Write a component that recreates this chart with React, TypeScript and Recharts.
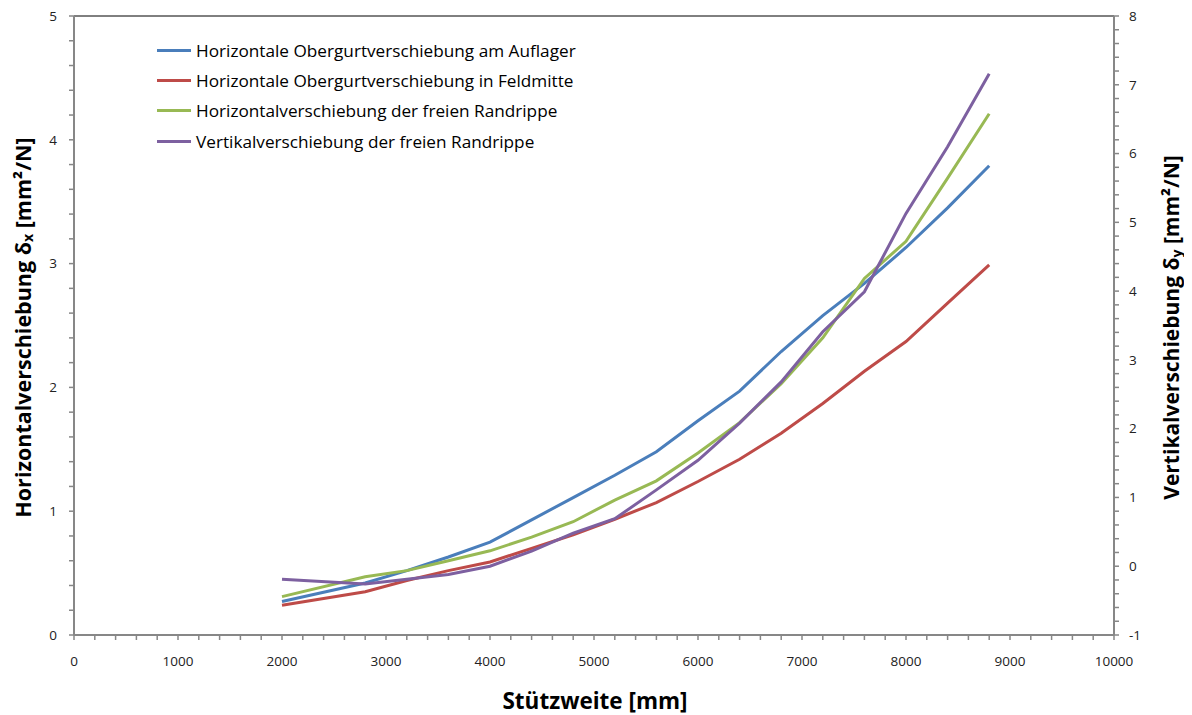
import React from "react";
import { LineChart, Line, XAxis, YAxis, ReferenceLine } from "recharts";

// ---- data ----
const spans = [2000, 2800, 3200, 3600, 4000, 4400, 4800, 5200, 5600, 6000, 6400, 6800, 7200, 7600, 8000, 8400, 8800];
const auflager = [0.27, 0.42, 0.52, 0.63, 0.75, 0.93, 1.11, 1.29, 1.48, 1.73, 1.97, 2.29, 2.58, 2.84, 3.13, 3.45, 3.79];
const feldmitte = [0.24, 0.35, 0.44, 0.52, 0.59, 0.70, 0.81, 0.935, 1.07, 1.24, 1.42, 1.63, 1.87, 2.13, 2.37, 2.68, 2.99];
const horizRand = [0.31, 0.47, 0.52, 0.60, 0.68, 0.79, 0.915, 1.09, 1.245, 1.47, 1.715, 2.03, 2.40, 2.88, 3.18, 3.69, 4.21];
const vertRand = [-0.19, -0.26, -0.19, -0.12, 0.0, 0.22, 0.48, 0.69, 1.11, 1.54, 2.08, 2.68, 3.41, 3.99, 5.13, 6.1, 7.16];

const seriesNames = [
  "Horizontale Obergurtverschiebung am Auflager",
  "Horizontale Obergurtverschiebung in Feldmitte",
  "Horizontalverschiebung der freien Randrippe",
  "Vertikalverschiebung der freien Randrippe",
];
const seriesColors = ["#4A7EBB", "#BE4B48", "#98B954", "#7D60A0"];

const xMajorTicks = [0, 1000, 2000, 3000, 4000, 5000, 6000, 7000, 8000, 9000, 10000];
const yLeftMajorTicks = [0, 1, 2, 3, 4, 5];
const yRightMajorTicks = [-1, 0, 1, 2, 3, 4, 5, 6, 7, 8];

const xTicks: number[] = [];
for (let k = 0; k <= 50; k++) xTicks.push(k * 200);
const yLeftTicks: number[] = [];
for (let k = 0; k <= 25; k++) yLeftTicks.push(Math.round(k * 2) / 10);
const yRightTicks: number[] = [];
for (let k = -5; k <= 40; k++) yRightTicks.push(Math.round(k * 2) / 10);

const data = spans.map((s, i) => ({
  x: s,
  a: auflager[i],
  f: feldmitte[i],
  h: horizRand[i],
  v: vertRand[i],
}));

const FONT = "'Open Sans', 'Liberation Sans', sans-serif";
const AXIS_COLOR = "#878787";

const XTick = (props: any) => {
  const { x, y, payload } = props;
  if (!xMajorTicks.includes(payload.value)) return <g />;
  return (
    <text x={x} y={y} dy="0.71em" textAnchor="middle" fontFamily={FONT} fontSize={13.5} fill="#222">
      {payload.value}
    </text>
  );
};

const YLeftTick = (props: any) => {
  const { x, y, payload } = props;
  if (!yLeftMajorTicks.includes(payload.value)) return <g />;
  return (
    <text x={x} y={y} dy="0.35em" textAnchor="end" fontFamily={FONT} fontSize={13.5} fill="#222">
      {payload.value}
    </text>
  );
};

const YRightTick = (props: any) => {
  const { x, y, payload } = props;
  if (!yRightMajorTicks.includes(payload.value)) return <g />;
  return (
    <text x={x} y={y} dy="0.35em" textAnchor="start" fontFamily={FONT} fontSize={13.5} fill="#222">
      {payload.value}
    </text>
  );
};

const LeftTitle = (props: any) => {
  const vb = props.viewBox || { x: 0, y: 8, width: 66, height: 619 };
  const cx = vb.x + 14;
  const cy = vb.y + vb.height / 2 + 2;
  return (
    <text
      x={cx}
      y={cy}
      transform={`rotate(-90 ${cx} ${cy})`}
      textAnchor="middle"
      dominantBaseline="central"
      fontFamily={FONT}
      fontSize={21.5}
      fontWeight="bold"
      fill="#000"
    >
      Horizontalverschiebung δ<tspan fontSize={14} dy={5}>x</tspan>
      <tspan dy={-5}> [mm²/N]</tspan>
    </text>
  );
};

const RightTitle = (props: any) => {
  const vb = props.viewBox || { x: 1106, y: 8, width: 78, height: 619 };
  const cx = vb.x + 57;
  const cy = vb.y + vb.height / 2 + 2;
  return (
    <text
      x={cx}
      y={cy}
      transform={`rotate(-90 ${cx} ${cy})`}
      textAnchor="middle"
      dominantBaseline="central"
      fontFamily={FONT}
      fontSize={21}
      fontWeight="bold"
      fill="#000"
    >
      Vertikalverschiebung δ<tspan fontSize={14} dy={5}>y</tspan>
      <tspan dy={-5}> [mm²/N]</tspan>
    </text>
  );
};

const XTitle = (props: any) => {
  const vb = props.viewBox || { x: 66, y: 627, width: 1040, height: 80 };
  return (
    <text
      x={vb.x + vb.width / 2 + 1}
      y={vb.y + 74}
      textAnchor="middle"
      fontFamily={FONT}
      fontSize={22.5}
      fontWeight="bold"
      fill="#000"
    >
      Stützweite [mm]
    </text>
  );
};

const LegendBox = () => (
  <div style={{ position: "absolute", left: 149, top: 27, fontFamily: FONT, fontSize: 17.2, color: "#000" }}>
    {seriesNames.map((n, i) => (
      <div key={n} style={{ display: "flex", alignItems: "center", height: 30.4, whiteSpace: "nowrap" }}>
        <span style={{ display: "inline-block", width: 34, height: 3, background: seriesColors[i], marginRight: 5 }} />
        <span>{n}</span>
      </div>
    ))}
  </div>
);

export default function App() {
  return (
    <div style={{ width: 1184, height: 707, position: "relative" }}>
      <LineChart width={1184} height={707} data={data} margin={{ top: 8, right: 0, bottom: 0, left: 0 }}>
        <XAxis
          dataKey="x"
          type="number"
          domain={[0, 10000]}
          ticks={xTicks}
          interval={0}
          height={80}
          stroke={AXIS_COLOR}
          strokeWidth={2}
          tickSize={5}
          tickMargin={16}
          tick={<XTick />}
          tickLine={{ stroke: AXIS_COLOR, strokeWidth: 1.5 }}
          label={<XTitle />}
        />
        <YAxis
          yAxisId="left"
          orientation="left"
          type="number"
          domain={[0, 5]}
          ticks={yLeftTicks}
          interval={0}
          width={66}
          stroke={AXIS_COLOR}
          strokeWidth={2}
          tickSize={5}
          tickMargin={12}
          tick={<YLeftTick />}
          tickLine={{ stroke: AXIS_COLOR, strokeWidth: 1.5 }}
          label={<LeftTitle />}
        />
        <YAxis
          yAxisId="right"
          orientation="right"
          type="number"
          domain={[-1, 8]}
          ticks={yRightTicks}
          interval={0}
          width={78}
          stroke={AXIS_COLOR}
          strokeWidth={2}
          tickSize={5}
          tickMargin={10}
          tick={<YRightTick />}
          tickLine={{ stroke: AXIS_COLOR, strokeWidth: 1.5 }}
          label={<RightTitle />}
        />
        <ReferenceLine yAxisId="left" y={5} stroke="#000" strokeWidth={1} />
        <Line yAxisId="left" type="linear" dataKey="a" name={seriesNames[0]} stroke={seriesColors[0]} strokeWidth={3} dot={false} isAnimationActive={false} />
        <Line yAxisId="left" type="linear" dataKey="f" name={seriesNames[1]} stroke={seriesColors[1]} strokeWidth={3} dot={false} isAnimationActive={false} />
        <Line yAxisId="left" type="linear" dataKey="h" name={seriesNames[2]} stroke={seriesColors[2]} strokeWidth={3} dot={false} isAnimationActive={false} />
        <Line yAxisId="right" type="linear" dataKey="v" name={seriesNames[3]} stroke={seriesColors[3]} strokeWidth={3} dot={false} isAnimationActive={false} />
      </LineChart>
      <LegendBox />
    </div>
  );
}
